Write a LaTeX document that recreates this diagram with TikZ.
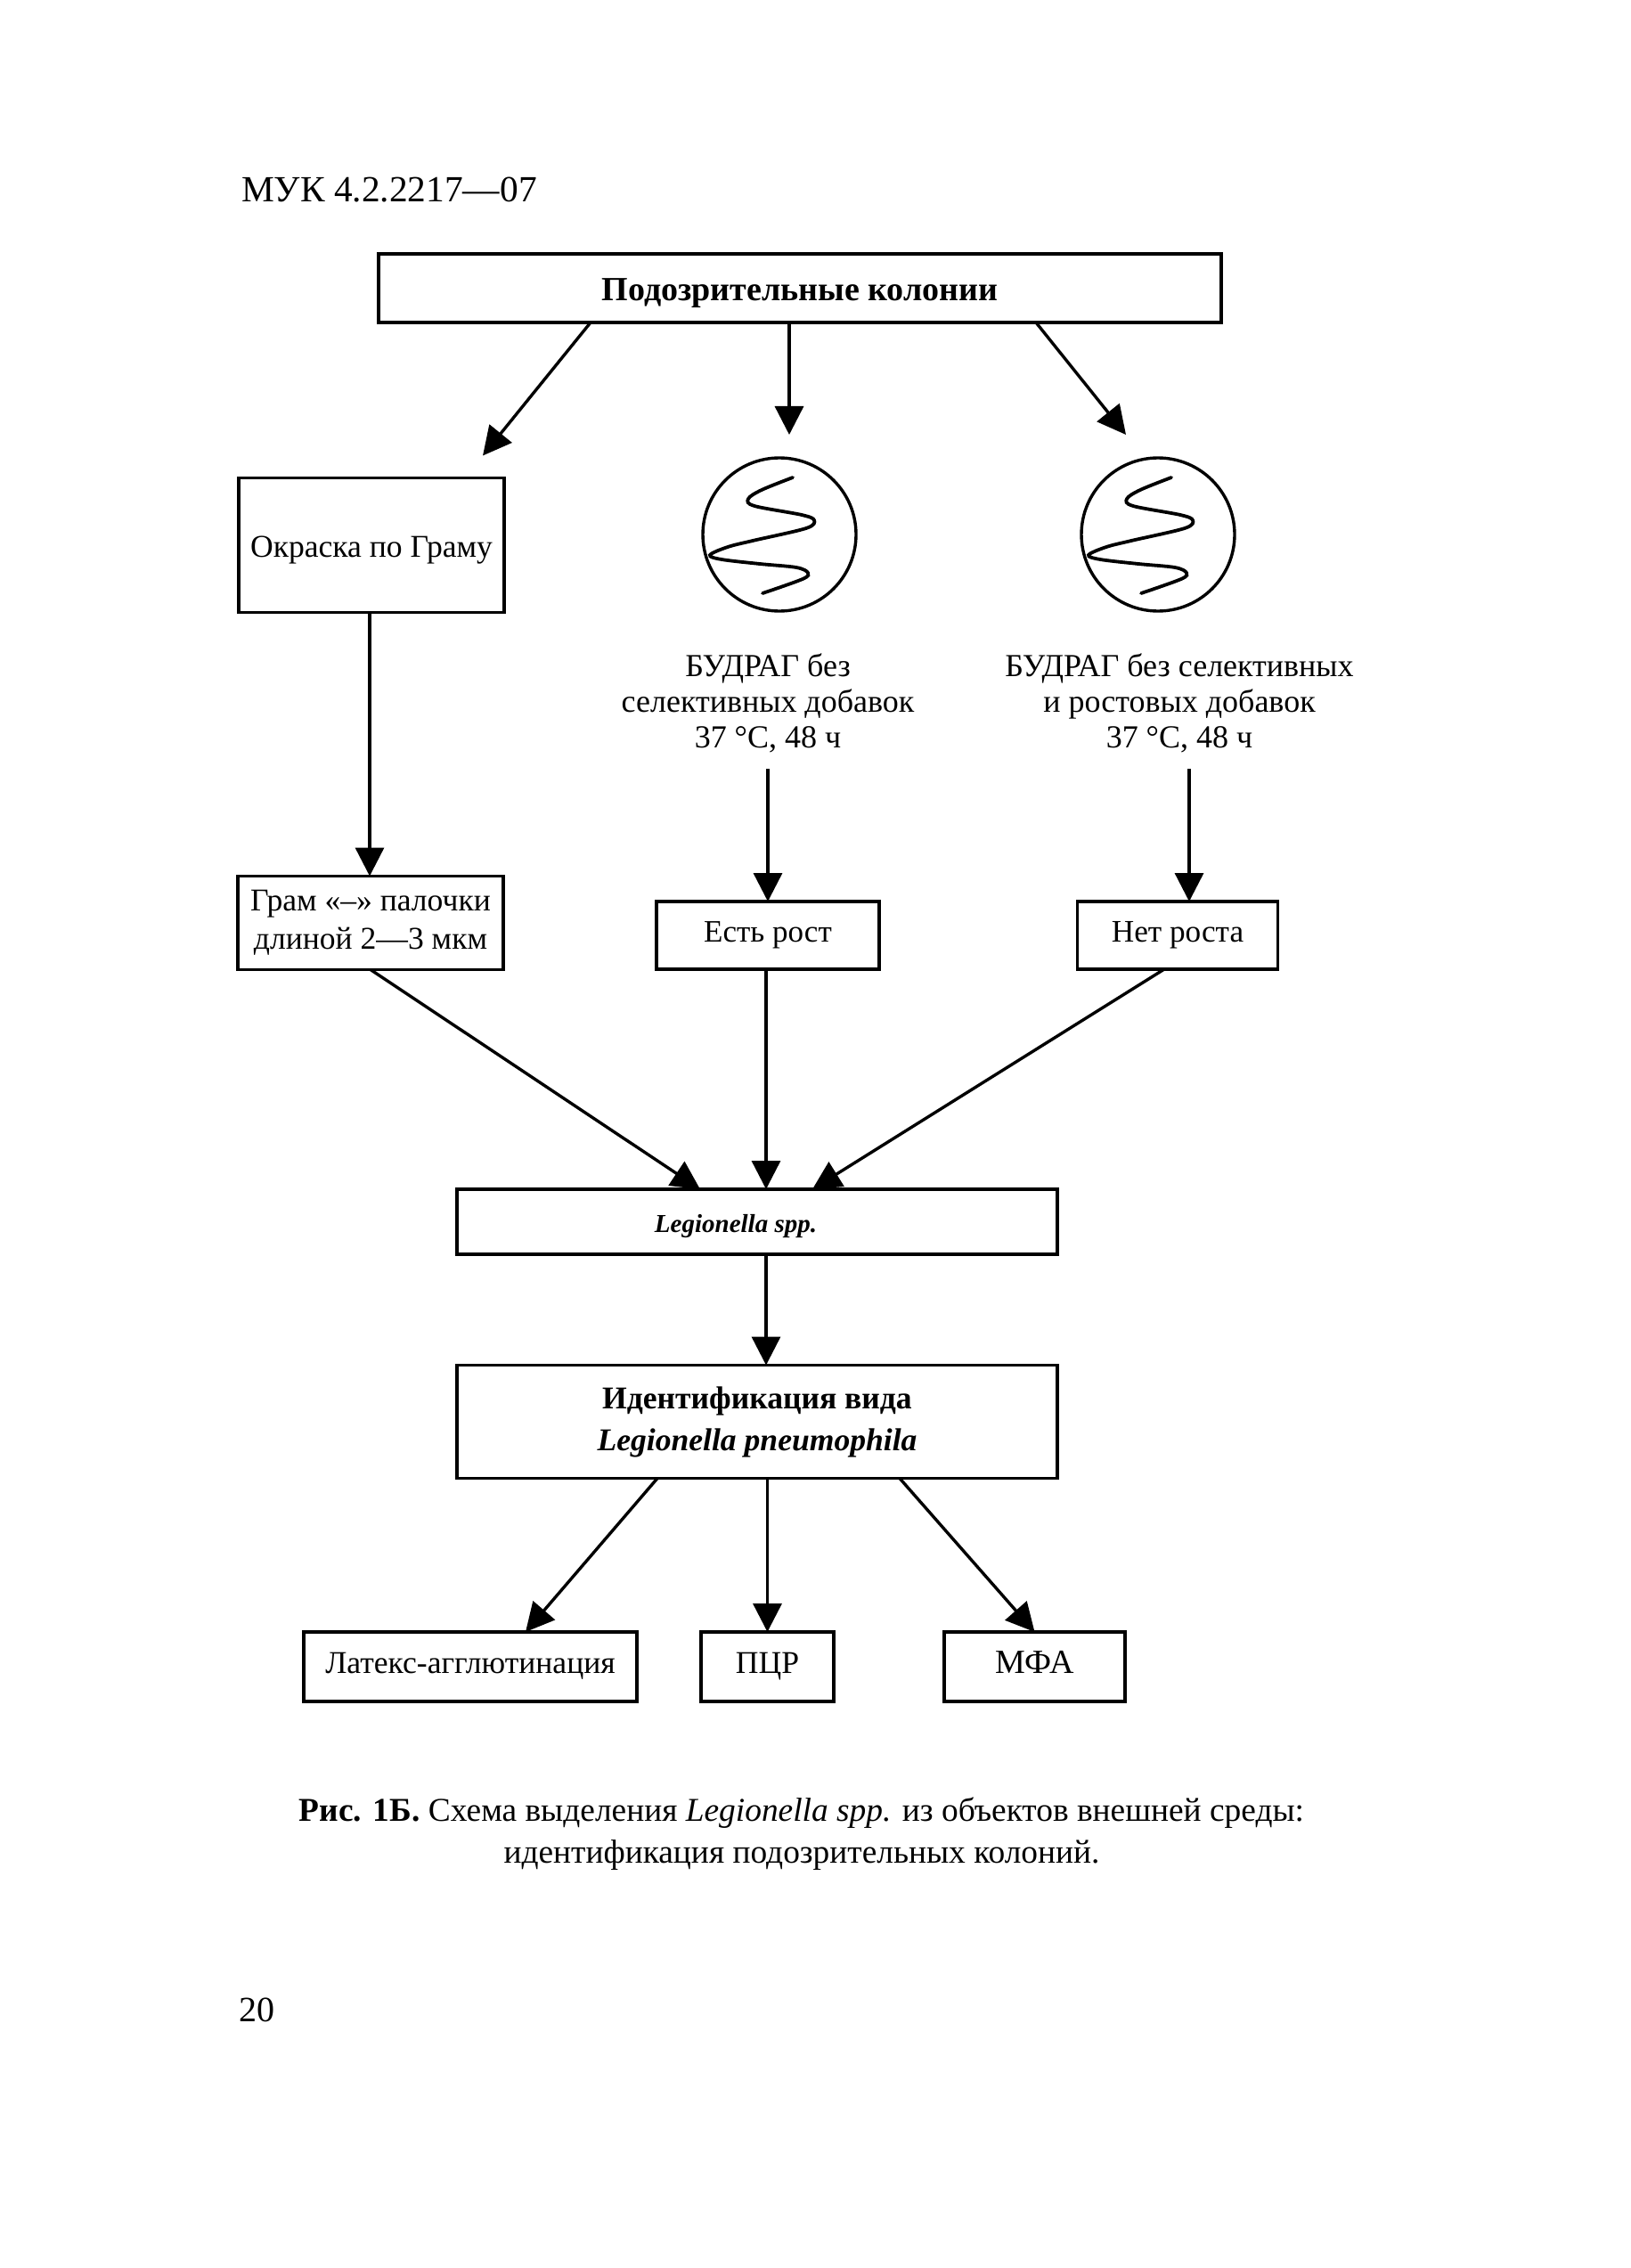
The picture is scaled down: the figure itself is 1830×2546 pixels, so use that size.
\documentclass[tikz,border=0pt]{standalone}
\usepackage{fontspec}
\setmainfont{Liberation Serif}
\usetikzlibrary{arrows.meta}
\tikzset{
  boxnode/.style={draw, line width=1.7pt, fill=white, align=center, inner sep=0pt, outer sep=0pt},
  plainnode/.style={align=center, inner sep=0pt, outer sep=0pt},
  platenode/.style={draw, circle, line width=1.7pt, minimum size=86pt, inner sep=0pt, outer sep=0pt},
  lownode/.style={boxnode, minimum height=39pt, text height=11pt, text depth=3.5pt},
  arr/.style={line width=1.7pt, -{Triangle[length=16pt,width=16pt]}},
  squig/.style={line width=1.9pt, line cap=round}
}
\newcommand{\fsz}[2]{\fontsize{#1}{#2}\selectfont}
\begin{document}
\begin{tikzpicture}[x=0.5pt, y=-0.5pt, font=\fsz{17.8}{21.5}]
  \useasboundingbox (0,0) rectangle (1830,2546);
  \node [plainnode, anchor=west, font=\fsz{20.7}{24}] (head) at (271,213) {МУК 4.2.2217—07};
  \node [boxnode, minimum width=473pt, minimum height=38.5pt, text height=14pt, text depth=0pt, font=\fsz{19}{23}\bfseries] (top) at (898,323.5) {Подозрительные колонии};
  \node [boxnode, minimum width=149pt, minimum height=75.5pt, text height=13.5pt, text depth=0pt] (gram) at (417,612) {Окраска по Граму};
  \node [platenode] (plate1) at (875,600) {};
  \node [platenode] (plate2) at (1300,600) {};
  \foreach \p in {plate1,plate2}
    \draw [squig, shift={(\p)}] plot [smooth, tension=0.55] coordinates {(15,-64) (-20,-50) (-35,-40) (-28,-32) (25,-22) (39,-16) (30,-7) (-30,7) (-58,14) (-78,23) (-65,28) (-22,33) (19,37) (32,43) (26,50) (-19,66)};
  \node [plainnode, minimum height=74pt, font=\fsz{18}{20}] (bud1) at (862,789) {БУДРАГ без\\селективных добавок\\37 °C, 48 ч};
  \node [plainnode, minimum height=74pt, font=\fsz{18}{20}] (bud2) at (1324,789) {БУДРАГ без селективных\\и ростовых добавок\\37 °C, 48 ч};
  \node [boxnode, minimum width=149pt, minimum height=52.5pt] (gramres) at (416,1036) {Грам «–» палочки\\длиной 2—3 мкм};
  \node [boxnode, minimum width=125pt, minimum height=38pt, font=\fsz{17.5}{21.5}] (rost) at (862,1050) {Есть рост};
  \node [boxnode, minimum width=112.5pt, minimum height=38pt, font=\fsz{17.6}{21.5}] (norost) at (1322,1050) {Нет роста};
  \node [boxnode, minimum width=337pt, minimum height=36.5pt, text height=11.5pt, text depth=0pt, font=\fsz{14.5}{18}\bfseries\itshape] (legion) at (850,1371.5) {Legionella spp.\hspace{24pt}};
  \node [boxnode, minimum width=337pt, minimum height=63.5pt, font=\fsz{17.8}{23.5}\bfseries] (ident) at (850,1596) {\raisebox{1pt}{Идентификация вида}\\\raisebox{1pt}{\itshape Legionella pneumophila}};
  \node [lownode, minimum width=187pt] (latex) at (528,1871) {Латекс-агглютинация};
  \node [lownode, minimum width=74.5pt] (pcr) at (861.5,1871) {ПЦР};
  \node [lownode, minimum width=101.5pt, font=\fsz{19}{21.5}] (mfa) at (1161.5,1871) {МФА};
  \node [plainnode, font=\fsz{18.7}{23.5}] (caption) at (900,2059) {\textbf{Рис. 1Б.} Схема выделения \textit{Legionella spp.} из объектов внешней среды:\\идентификация подозрительных колоний.};
  \node [plainnode, anchor=west, font=\fsz{20}{24}] (pagenum) at (268,2256) {20};
  % upper row
  \draw [arr] ([xshift=-117.5pt]top.south) -- ([xshift=62.5pt,yshift=12.5pt]gram.north);
  \draw [arr] ([xshift=-6pt]top.south) -- ([xshift=5.5pt,yshift=13pt]plate1.north);
  \draw [arr] ([xshift=132.5pt]top.south) -- ([xshift=-18pt,yshift=13pt]plate2.north);
  \draw [arr] ([xshift=-1pt]gram.south) -- ([xshift=-0.5pt]gramres.north);
  \draw [arr] (bud1.south) -- (rost.north);
  \draw [arr] ([xshift=5.5pt]bud2.south) -- ([xshift=6.5pt]norost.north);
  % into Legionella spp.
  \draw [arr] (gramres.south) -- ([xshift=-32pt]legion.north);
  \draw [arr] ([xshift=-1pt]rost.south) -- ([xshift=5pt]legion.north);
  \draw [arr] ([xshift=-7.5pt]norost.south) -- ([xshift=31pt]legion.north);
  \draw [arr] ([xshift=5pt]legion.south) -- ([xshift=5pt]ident.north);
  % lower row
  \draw [arr] ([xshift=-56pt]ident.south) -- ([xshift=31pt]latex.north);
  \draw [arr] ([xshift=5.75pt]ident.south) -- (pcr.north);
  \draw [arr] ([xshift=80pt]ident.south) -- (mfa.north);
\end{tikzpicture}
\end{document}
